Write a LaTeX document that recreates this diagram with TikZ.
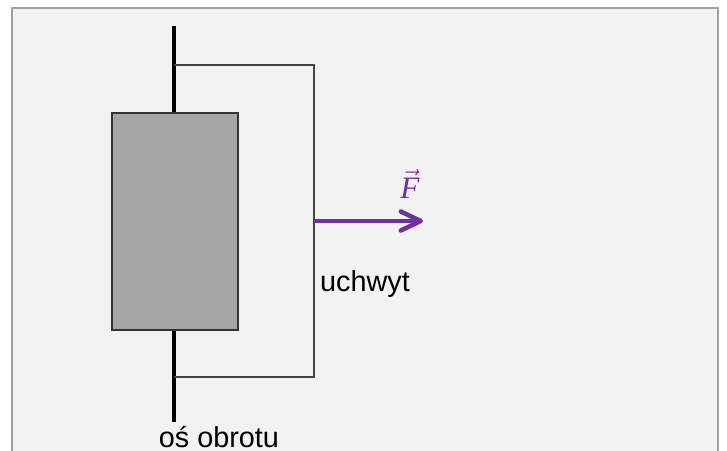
\documentclass[tikz,border=0pt]{standalone}
\usepackage{amsmath}
\usepackage{fontspec}
\setmainfont{Liberation Sans}
\newfontfamily\forcefont{Liberation Serif}
\usetikzlibrary{arrows.meta}
\usetikzlibrary{positioning}
\definecolor{panelgray}{HTML}{F2F2F2}
\definecolor{panelline}{HTML}{A0A0A0}
\definecolor{bodygray}{HTML}{A6A6A6}
\definecolor{handlegray}{HTML}{444444}
\definecolor{forcecolor}{HTML}{7030A0}

\begin{document}
\begin{tikzpicture}[
            x = 1pt,
            y = -1pt,
            line cap = butt,
            every node/.style = {font = \fontsize{28.8}{30}\selectfont, inner sep = 0pt}
        ]

        \tikzstyle{panel}=[
            draw = panelline,
            line width = 1.5pt,
            fill = panelgray,
            minimum width = 706pt,
            minimum height = 460pt
        ]
        \tikzstyle{block}=[
            draw = black!80,
            line width = 1.2pt,
            fill = bodygray,
            minimum width = 126pt,
            minimum height = 217pt
        ]
        \tikzstyle{axis}=[line width = 4pt, black]
        \tikzstyle{holder}=[line width = 2pt, handlegray]
        \tikzstyle{force}=[
            line width = 4.5pt,
            forcecolor,
            -{Straight Barb[length = 20pt, width = 19pt, line width = 4.5pt, round]}
        ]

        \useasboundingbox (0,0) rectangle (727,450);

        % background
        \node[panel] (P) at (365,238) {};

        % axis of rotation
        \coordinate (AT) at (174,26);
        \coordinate (AB) at (174,422);
        \draw[axis] (AT) -- (AB);

        % holder
        \coordinate (HT) at (174,65);
        \coordinate (HB) at (174,377);
        \coordinate (HR) at (314,221);
        \draw[holder] (HT) -| (HR) |- (HB);

        % rotating block
        \node[block] (B) at (175,221.5) {};

        % force
        \coordinate (FE) at (423,221);
        \draw[force] (HR) -- (FE);
        \node[forcecolor, font = \fontsize{24}{26}\selectfont, scale = 1.3] (F) at (410,184) {$\vec{\text{\forcefont\itshape F}}$};

        % labels
        \node (U) [anchor = base west] at (320,291) {uchwyt};
        \node (O) [anchor = base] at (219,447.5) {oś obrotu};

\end{tikzpicture}
\end{document}
